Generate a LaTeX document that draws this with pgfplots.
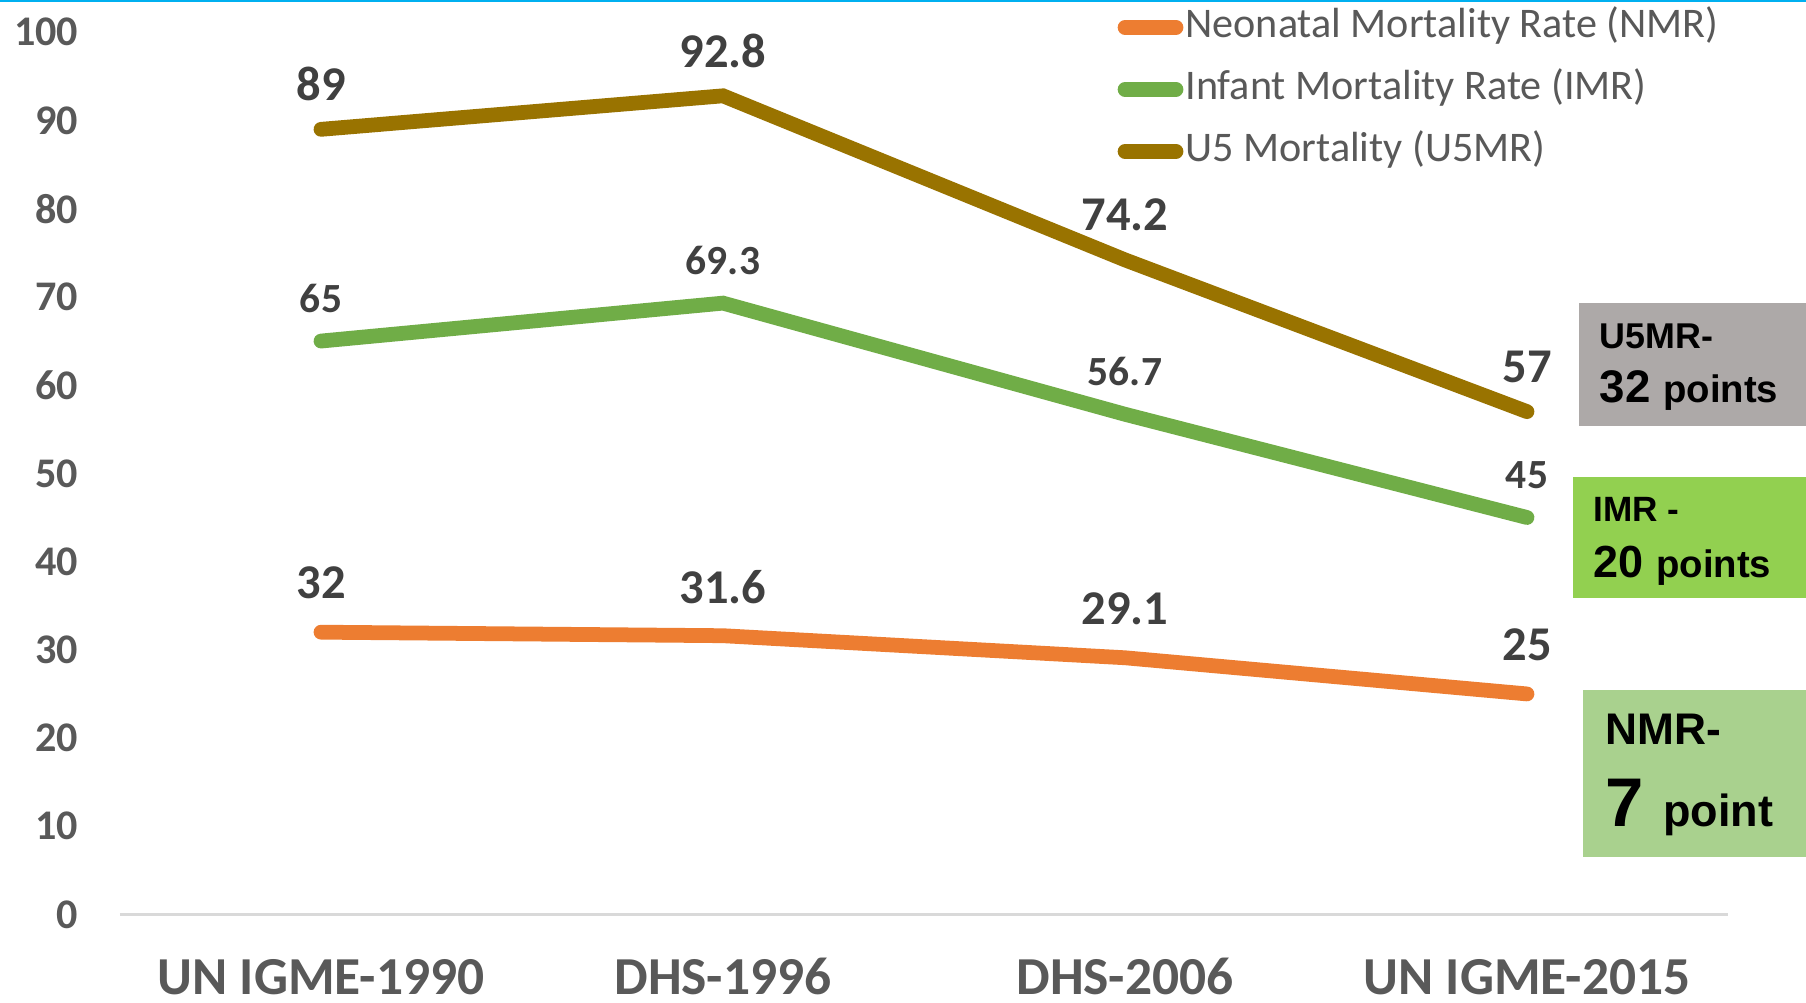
\documentclass[border=0pt]{standalone}
\usepackage{pgfplots}
\pgfplotsset{compat=1.18}
\usepackage{fontspec}
\setmainfont{Carlito}
\newfontfamily\arial{Liberation Sans}
\definecolor{nmr}{HTML}{ED7D31}
\definecolor{imr}{HTML}{70AD47}
\definecolor{uf}{HTML}{997300}
\definecolor{lbl}{HTML}{404040}
\definecolor{tickc}{HTML}{595959}
\definecolor{axisgray}{HTML}{D9D9D9}
\definecolor{topblue}{HTML}{00B0F0}
\definecolor{graybox}{HTML}{ADA9A8}
\definecolor{imrbox}{HTML}{92D050}
\definecolor{nmrbox}{HTML}{A9D18E}
\begin{document}
\begin{tikzpicture}
\fill[white] (0,0) rectangle (18.06,-10.03);
\fill[topblue] (0,0) rectangle (18.06,-0.025);
\begin{axis}[
  at={(1.20cm,-9.145cm)}, anchor=south west,
  width=16.08cm, height=8.822cm, scale only axis,
  xmin=-0.5, xmax=3.5, ymin=0, ymax=100,
  xtick={0,1,2,3},
  xticklabels={UN IGME-1990, DHS-1996, DHS-2006, UN IGME-2015},
  ytick={0,10,...,100},
  /pgf/number format/assume math mode=true,
  axis x line*=bottom, axis y line*=left,
  x axis line style={draw=axisgray, line width=0.6pt, -},
  y axis line style={draw=none},
  major tick length=0pt,
  tick style={draw=none},
  yticklabel style={font=\fontsize{12}{12}\selectfont\bfseries, text=tickc, anchor=east, inner sep=0pt, xshift=-0.41cm},
  xticklabel style={font=\fontsize{15.2}{15.2}\selectfont\bfseries, text=tickc, anchor=base, inner sep=0pt, yshift=-0.80cm},
  clip=false,
  legend style={at={(0.62,1.029)}, anchor=north west, draw=none, fill=none,
    inner sep=0pt, row sep=0.22cm, column sep=0.02cm,
    nodes={inner sep=0pt, text height=0.30cm, text depth=0.10cm, font=\fontsize{12}{12}\selectfont, text=tickc}},
  legend cell align=left,
  legend image code/.code={\draw[line width=4.2pt, line cap=round] (0.075cm,0cm) -- (0.585cm,0cm);},
  point meta=explicit symbolic,
  nodes near coords,
]
\addplot[nmr, line width=4.2pt, line cap=round,
  every node near coord/.append style={font=\fontsize{13.8}{13.8}\selectfont\bfseries, text=lbl, anchor=center, yshift=0.49cm}]
  coordinates {(0,32)[32] (1,31.6)[31.6] (2,29.1)[29.1] (3,25)[25]};
\addlegendentry{Neonatal Mortality Rate (NMR)}
\addplot[imr, line width=4.2pt, line cap=round,
  every node near coord/.append style={font=\fontsize{11.8}{11.8}\selectfont\bfseries, text=lbl, anchor=center, yshift=0.425cm}]
  coordinates {(0,65)[65] (1,69.3)[69.3] (2,56.7)[56.7] (3,45)[45]};
\addlegendentry{Infant Mortality Rate (IMR)}
\addplot[uf, line width=4.2pt, line cap=round,
  every node near coord/.append style={font=\fontsize{13.8}{13.8}\selectfont\bfseries, text=lbl, anchor=center, yshift=0.45cm}]
  coordinates {(0,89)[89] (1,92.8)[92.8] (2,74.2)[74.2] (3,57)[57]};
\addlegendentry{U5 Mortality (U5MR)}
\end{axis}
% annotation boxes
\fill[graybox] (15.79,-3.03) rectangle (18.06,-4.26);
\node[anchor=base west, inner sep=0pt] at (15.99,-3.49) {\arial\bfseries\fontsize{10.2}{10.2}\selectfont U5MR-};
\node[anchor=base west, inner sep=0pt] at (15.99,-4.03) {\arial\bfseries\fontsize{13}{13}\selectfont 32 \fontsize{10.9}{10.9}\selectfont points};
\fill[imrbox] (15.73,-4.77) rectangle (18.06,-5.98);
\node[anchor=base west, inner sep=0pt] at (15.93,-5.22) {\arial\bfseries\fontsize{10}{10}\selectfont IMR -};
\node[anchor=base west, inner sep=0pt] at (15.93,-5.78) {\arial\bfseries\fontsize{12.8}{12.8}\selectfont 20 \fontsize{10.9}{10.9}\selectfont points};
\fill[nmrbox] (15.83,-6.90) rectangle (18.06,-8.57);
\node[anchor=base west, inner sep=0pt] at (16.05,-7.45) {\arial\bfseries\fontsize{12.6}{12.6}\selectfont NMR-};
\node[anchor=base west, inner sep=0pt] at (16.05,-8.27) {\arial\bfseries\fontsize{19.6}{19.6}\selectfont 7 \fontsize{12.8}{12.8}\selectfont point};
\pgfresetboundingbox
\useasboundingbox (0,0) rectangle (18.06,-10.03);
\end{tikzpicture}
\end{document}
